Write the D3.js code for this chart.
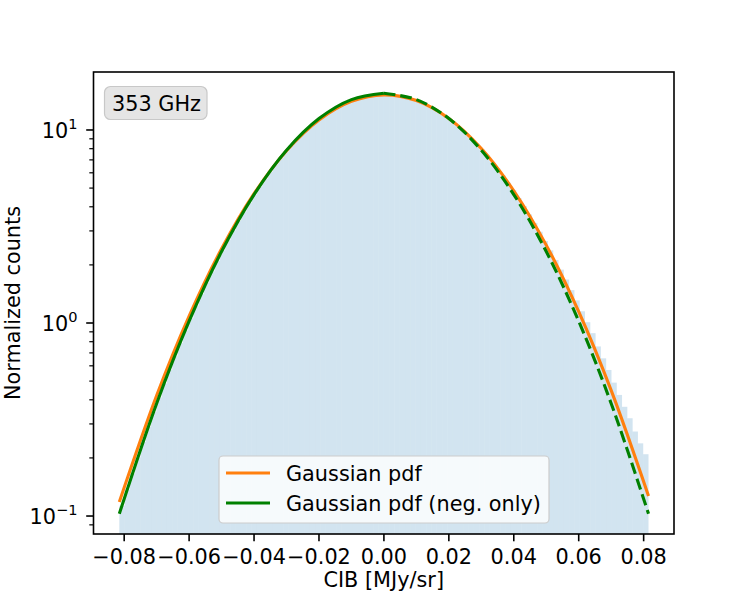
<!DOCTYPE html>
<html>
<head>
<meta charset="utf-8">
<script src="https://cdn.jsdelivr.net/npm/d3@7"></script>
<style>
  body { margin: 0; background: #fff; }
  svg text { font-family: "DejaVu Sans", sans-serif; fill: #000; }
</style>
</head>
<body>
<div id="chart"></div>
<script>
// histogram: 100 bins over the CIB range
const binStart = -0.0815;
const binWidth = 0.00163;
const histCounts = [
  0.113, 0.137, 0.166, 0.201, 0.242, 0.290, 0.346, 0.411, 0.486, 0.573,
  0.673, 0.787, 0.916, 1.06, 1.23, 1.41, 1.62, 1.85, 2.10, 2.38,
  2.69, 3.02, 3.38, 3.76, 4.18, 4.62, 5.08, 5.58, 6.09, 6.63,
  7.18, 7.75, 8.33, 8.92, 9.51, 10.10, 10.68, 11.26, 11.81, 12.34,
  12.85, 13.32, 13.76, 14.15, 14.49, 14.79, 15.03, 15.21, 15.33, 15.39,
  15.39, 15.33, 15.21, 15.03, 14.80, 14.51, 14.17, 13.79, 13.36, 12.90,
  12.41, 11.89, 11.34, 10.79, 10.22, 9.64, 9.07, 8.50, 7.93, 7.38,
  6.84, 6.32, 5.81, 5.33, 4.88, 4.44, 4.04, 3.65, 3.30, 2.97,
  2.66, 2.38, 2.12, 1.89, 1.68, 1.48, 1.31, 1.15, 1.01, 0.886,
  0.756, 0.656, 0.571, 0.491, 0.424, 0.368, 0.321, 0.274, 0.238, 0.209
];

// fitted curves
const curveX = [-0.0815, -0.07, -0.06, -0.05, -0.04, -0.03, -0.02, -0.01, 0,
                0.01, 0.02, 0.03, 0.04, 0.05, 0.06, 0.07, 0.0815];
const gaussAll = [0.1183, 0.4211, 1.086, 2.424, 4.677, 7.808, 11.27, 14.07, 15.20,
                  14.20, 11.47, 8.014, 4.843, 2.532, 1.145, 0.4476, 0.1271];
const gaussNeg = [0.1027, 0.3829, 1.022, 2.346, 4.629, 7.855, 11.46, 14.37, 15.5,
                  14.37, 11.46, 7.855, 4.629, 2.346, 1.022, 0.3829, 0.1027];

const xTicks = [-0.08, -0.06, -0.04, -0.02, 0, 0.02, 0.04, 0.06, 0.08];
const yMajor = [0.1, 1, 10];
const yMinor = [0.09, 0.2, 0.3, 0.4, 0.5, 0.6, 0.7, 0.8, 0.9,
                2, 3, 4, 5, 6, 7, 8, 9];
const legendLabels = ["Gaussian pdf", "Gaussian pdf (neg. only)"];
const colors = ["#ff7f0e", "#008000"];

const W = 750, H = 600;
const axL = 93.5, axR = 674, axT = 72, axB = 534;
const fs = 20.8;

const svg = d3.select("#chart").append("svg")
  .attr("width", W).attr("height", H);

const x = d3.scaleLinear().domain([-0.08945, 0.08935]).range([axL, axR]);
const y = d3.scaleLog().domain([0.0807, 19.97]).range([axB, axT]);

svg.append("defs").append("clipPath").attr("id", "clip")
  .append("rect").attr("x", axL).attr("y", axT)
  .attr("width", axR - axL).attr("height", axB - axT);

const plot = svg.append("g").attr("clip-path", "url(#clip)");

// histogram bars
plot.selectAll("rect.bar")
  .data(histCounts)
  .join("rect")
  .attr("class", "bar")
  .attr("x", (d, i) => x(binStart + i * binWidth))
  .attr("width", (d, i) => x(binStart + (i + 1) * binWidth) - x(binStart + i * binWidth))
  .attr("y", d => y(d))
  .attr("height", d => axB - y(d))
  .attr("fill", "#1f77b4")
  .attr("fill-opacity", 0.2);

const line = d3.line()
  .x(d => x(d[0]))
  .y(d => y(d[1]))
  .curve(d3.curveCatmullRom.alpha(0.5));

const allPts = curveX.map((v, i) => [v, gaussAll[i]]);
const negPts = curveX.map((v, i) => [v, gaussNeg[i]]);

plot.append("path").datum(allPts)
  .attr("d", line).attr("fill", "none")
  .attr("stroke", colors[0]).attr("stroke-width", 3.1);

plot.append("path").datum(negPts.filter(d => d[0] <= 0))
  .attr("d", line).attr("fill", "none")
  .attr("stroke", colors[1]).attr("stroke-width", 3.1);

plot.append("path").datum(negPts.filter(d => d[0] >= 0))
  .attr("d", line).attr("fill", "none")
  .attr("stroke", colors[1]).attr("stroke-width", 3.1)
  .attr("stroke-dasharray", "11.6,5");

// axes frame
svg.append("rect")
  .attr("x", axL).attr("y", axT)
  .attr("width", axR - axL).attr("height", axB - axT)
  .attr("fill", "none").attr("stroke", "#000").attr("stroke-width", 1.6);

// x axis
const xAxis = svg.append("g");
xTicks.forEach(t => {
  xAxis.append("line")
    .attr("x1", x(t)).attr("x2", x(t))
    .attr("y1", axB).attr("y2", axB + 7.3)
    .attr("stroke", "#000").attr("stroke-width", 1.6);
  xAxis.append("text")
    .attr("x", x(t)).attr("y", axB + 30)
    .attr("text-anchor", "middle")
    .attr("font-size", fs)
    .text(d3.format(".2f")(t).replace("-", "\u2212"));
});

// y axis
const yAxis = svg.append("g");
yMinor.forEach(t => {
  yAxis.append("line")
    .attr("x1", axL).attr("x2", axL - 4.2)
    .attr("y1", y(t)).attr("y2", y(t))
    .attr("stroke", "#000").attr("stroke-width", 1.2);
});
yMajor.forEach(t => {
  yAxis.append("line")
    .attr("x1", axL).attr("x2", axL - 7.3)
    .attr("y1", y(t)).attr("y2", y(t))
    .attr("stroke", "#000").attr("stroke-width", 1.6);
  const exp = Math.round(Math.log10(t));
  const txt = yAxis.append("text")
    .attr("x", axL - 16).attr("y", y(t) + 8)
    .attr("text-anchor", "end")
    .attr("font-size", fs);
  txt.append("tspan").text("10");
  txt.append("tspan")
    .attr("font-size", fs * 0.7)
    .attr("dy", -9)
    .text(String(exp).replace("-", "\u2212"));
});

// axis labels
svg.append("text")
  .attr("x", (axL + axR) / 2).attr("y", 587)
  .attr("text-anchor", "middle")
  .attr("font-size", fs)
  .text("CIB [MJy/sr]");

svg.append("text")
  .attr("transform", `translate(20,${(axT + axB) / 2}) rotate(-90)`)
  .attr("text-anchor", "middle")
  .attr("font-size", fs)
  .text("Normalized counts");

// frequency label box
const tag = svg.append("g");
tag.append("rect")
  .attr("x", 104.5).attr("y", 86.5).attr("width", 102.5).attr("height", 33)
  .attr("rx", 6)
  .attr("fill", "#e5e5e5").attr("stroke", "#c8c8c8").attr("stroke-width", 1.2);
tag.append("text")
  .attr("x", 112).attr("y", 110.5)
  .attr("font-size", fs)
  .text("353 GHz");

// legend
const leg = svg.append("g");
leg.append("rect")
  .attr("x", 219).attr("y", 456).attr("width", 330).attr("height", 67)
  .attr("rx", 4)
  .attr("fill", "#fff").attr("fill-opacity", 0.8)
  .attr("stroke", "#cccccc").attr("stroke-width", 1.2);
legendLabels.forEach((lab, i) => {
  const ly = 473 + i * 30;
  leg.append("line")
    .attr("x1", 226).attr("x2", 270)
    .attr("y1", ly).attr("y2", ly)
    .attr("stroke", colors[i]).attr("stroke-width", 3.1);
  leg.append("text")
    .attr("x", 286).attr("y", ly + 7.5)
    .attr("font-size", fs)
    .text(lab);
});
</script>
</body>
</html>
